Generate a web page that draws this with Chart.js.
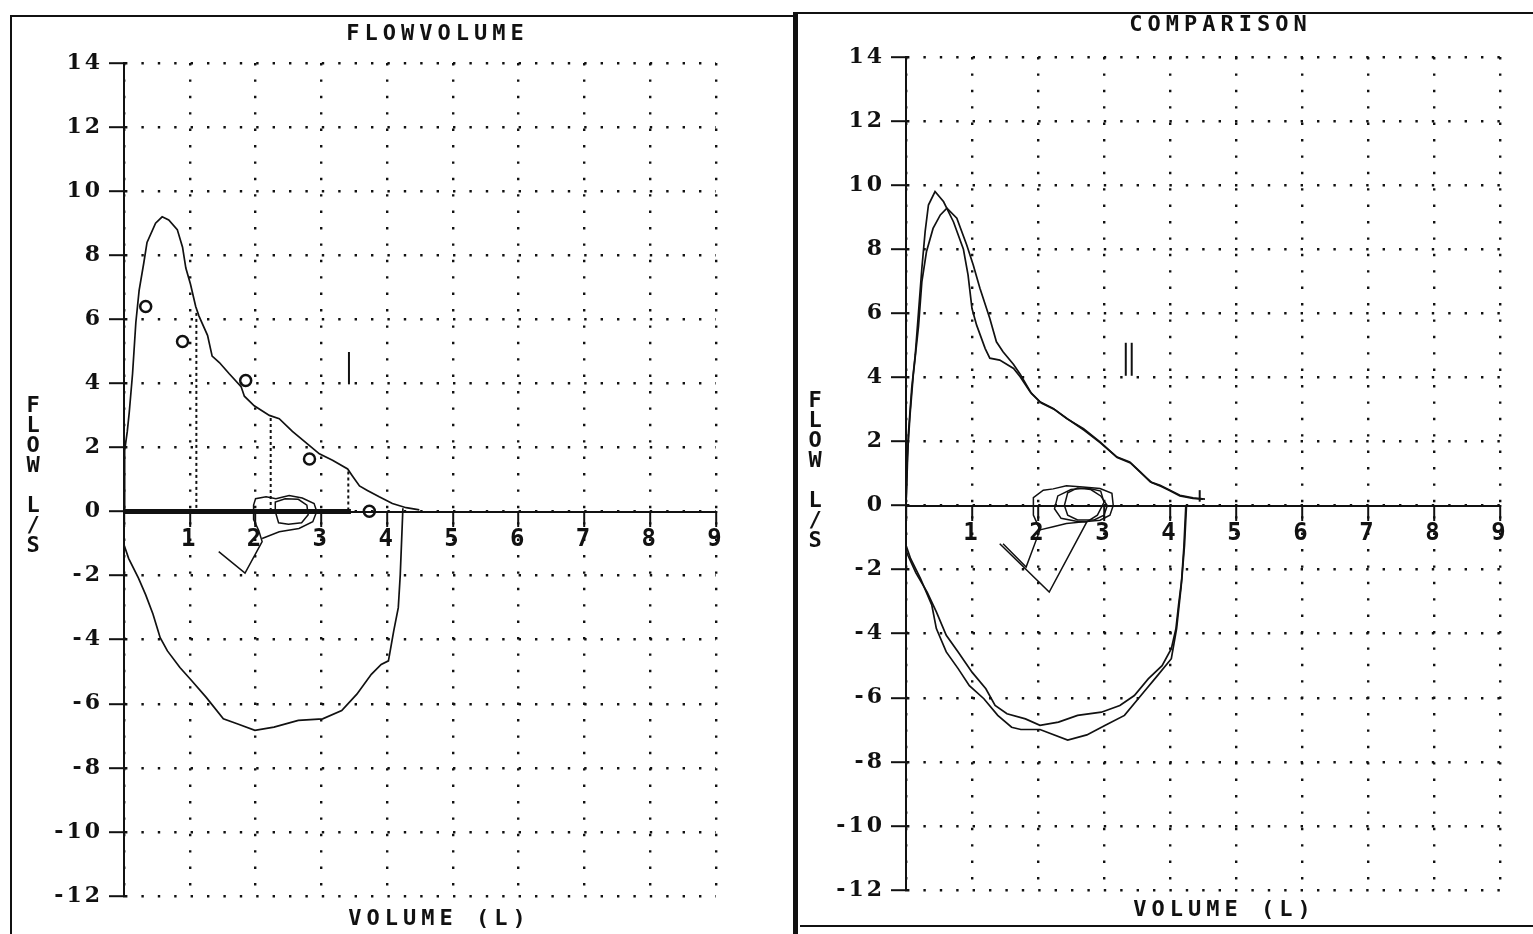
<!DOCTYPE html>
<html><head><meta charset="utf-8">
<script src="https://cdn.jsdelivr.net/npm/chart.js@4.4.1/dist/chart.umd.min.js"></script>
<style>
html,body{margin:0;padding:0;background:#fff;width:1533px;height:934px;overflow:hidden;position:relative;font-family:'DejaVu Sans Mono',monospace;}
.abs{position:absolute;}
.ttl{font-weight:bold;font-size:22px;line-height:22px;letter-spacing:5px;color:#111;white-space:nowrap;transform:translate(-50%,-50%);padding-left:5px;}
.ylab{font-weight:bold;font-size:22px;line-height:20px;color:#111;text-align:center;width:24px;transform:translateX(-50%);}
.ln{background:#111;}
canvas{position:absolute;}
</style></head><body>
<canvas id="c1" width="768" height="914" style="left:12px;top:20px;width:768px;height:914px"></canvas>
<canvas id="c2" width="733" height="920" style="left:800px;top:14px;width:733px;height:920px"></canvas>

<div class="abs ln" style="left:10px;top:15px;width:784px;height:2px"></div>
<div class="abs ln" style="left:10px;top:15px;width:2px;height:919px"></div>
<div class="abs ln" style="left:793px;top:12px;width:5px;height:922px"></div>
<div class="abs ln" style="left:796px;top:12px;width:737px;height:2px"></div>
<div class="abs ln" style="left:800px;top:925px;width:733px;height:2px"></div>

<div class="abs ttl" style="left:435px;top:33px">FLOWVOLUME</div>
<div class="abs ttl" style="left:1218px;top:24px">COMPARISON</div>
<div class="abs ttl" style="left:437px;top:918px">VOLUME (L)</div>
<div class="abs ttl" style="left:1222px;top:909px">VOLUME (L)</div>
<div class="abs ylab" style="left:33px;top:395px">F<br>L<br>O<br>W<br>&nbsp;<br>L<br>/<br>S</div>
<div class="abs ylab" style="left:815px;top:390px">F<br>L<br>O<br>W<br>&nbsp;<br>L<br>/<br>S</div>

<script>
// ---------- axis definitions ----------
const volTicks = [0,1,2,3,4,5,6,7,8,9];
const flowTicks = [-12,-10,-8,-6,-4,-2,0,2,4,6,8,10,12,14];

// ---------- left panel: FLOWVOLUME ----------
const fvExpV = [0,0.01,0.05,0.08,0.13,0.18,0.23,0.30,0.35,0.48,0.58,0.68,0.81,0.89,0.94,1.01,1.09,1.14,1.27,1.34,1.45,1.6,1.78,1.83,1.98,2.21,2.36,2.56,2.82,2.97,3.17,3.4,3.47,3.58,3.7,3.88,4.08,4.29,4.49];
const fvExpF = [0,1.9,2.5,3.1,4.3,5.9,6.9,7.75,8.4,9.0,9.2,9.1,8.8,8.25,7.6,7.1,6.4,6.1,5.5,4.85,4.65,4.3,3.9,3.6,3.3,3.0,2.9,2.5,2.06,1.8,1.6,1.33,1.12,0.8,0.66,0.46,0.25,0.12,0.05];
const fvInsV = [0,0,0.07,0.22,0.33,0.44,0.55,0.66,0.85,1.03,1.25,1.51,1.73,1.99,2.28,2.65,3.02,3.31,3.54,3.76,3.91,4.02,4.1,4.17,4.2,4.24];
const fvInsF = [0,-1.04,-1.46,-2.08,-2.6,-3.2,-3.94,-4.35,-4.87,-5.28,-5.8,-6.47,-6.63,-6.83,-6.73,-6.52,-6.47,-6.21,-5.7,-5.08,-4.77,-4.66,-3.73,-3.0,-1.97,0.1];
const fvTidalV = [1.44,1.84,2.1,2.05,1.97,1.97,2.0,2.16,2.31,2.51,2.71,2.89,2.93,2.87,2.66,2.36,2.1];
const fvTidalF = [-1.25,-1.92,-0.94,-0.6,-0.25,0.2,0.4,0.46,0.4,0.5,0.42,0.25,0.0,-0.32,-0.53,-0.63,-0.84];
const fvTidal2V = [2.3,2.3,2.45,2.65,2.78,2.8,2.7,2.5,2.35,2.3];
const fvTidal2F = [0.0,0.3,0.4,0.38,0.2,-0.1,-0.35,-0.4,-0.35,0.0];
const fvMarkV = [0.33,0.89,1.85,2.82,3.73];
const fvMarkF = [6.4,5.31,4.09,1.64,0.01];
const fvDropV = [1.1,2.23,3.41];
const fvDropF = [6.2,2.92,1.25];
const fvBarV = [0,3.45];
const fvBarF = [0,0];
const fvTagV = [3.42,3.42];
const fvTagF = [3.97,4.98];

// ---------- right panel: COMPARISON ----------
const cmpExpAV = [0,0.02,0.035,0.086,0.14,0.19,0.24,0.29,0.34,0.44,0.57,0.72,0.87,0.94,1.0,1.07,1.2,1.27,1.42,1.63,1.73,1.88,2.03,2.23,2.43,2.69,2.94,3.19,3.39,3.55,3.7,3.85,4.0,4.15,4.35,4.53];
const cmpExpAF = [0,1.2,2.2,3.65,4.7,6.05,7.4,8.55,9.38,9.8,9.48,8.85,8.0,7.2,6.15,5.63,4.9,4.6,4.54,4.28,4.02,3.55,3.24,3.03,2.72,2.4,1.99,1.52,1.36,1.05,0.74,0.63,0.48,0.32,0.24,0.2];
const cmpExpBV = [0,0.02,0.06,0.11,0.19,0.24,0.31,0.41,0.52,0.62,0.77,0.92,1.02,1.12,1.27,1.37,1.47,1.63,1.73,1.9,2.05,2.25,2.45,2.7,2.95,3.2,3.4,3.56,3.72,3.86,4.0,4.15,4.35,4.5];
const cmpExpBF = [0,1.5,2.8,4.07,5.6,6.98,7.92,8.65,9.07,9.28,8.97,8.13,7.5,6.78,5.84,5.11,4.8,4.4,4.1,3.5,3.2,3.0,2.7,2.35,1.95,1.5,1.33,1.02,0.72,0.6,0.46,0.3,0.22,0.2];
const cmpInsAV = [0,0,0.07,0.22,0.39,0.46,0.61,0.79,0.96,1.18,1.39,1.6,1.74,2.03,2.45,2.74,3.02,3.31,3.6,3.81,4.02,4.1,4.17,4.21,4.24];
const cmpInsAF = [0,-1.24,-1.66,-2.28,-3.1,-3.84,-4.57,-5.09,-5.62,-6.03,-6.55,-6.92,-6.99,-6.99,-7.32,-7.16,-6.86,-6.55,-5.83,-5.31,-4.78,-3.84,-2.5,-1.3,0];
const cmpInsBV = [0,0.03,0.15,0.32,0.46,0.61,0.79,1.0,1.21,1.35,1.53,1.81,2.03,2.31,2.6,2.96,3.24,3.46,3.67,3.88,4.02,4.09,4.13,4.18,4.22,4.25];
const cmpInsBF = [-1.4,-1.56,-2.1,-2.7,-3.32,-4.05,-4.57,-5.2,-5.72,-6.24,-6.5,-6.66,-6.86,-6.76,-6.55,-6.45,-6.24,-5.93,-5.41,-5.0,-4.47,-3.84,-3.1,-2.28,-1.24,0];
const cmpTidalAV = [1.47,1.82,2.03,1.93,1.93,2.08,2.23,2.43,2.68,2.94,3.12,3.14,3.09,2.94,2.69,2.43,2.23,2.03];
const cmpTidalAF = [-1.19,-1.92,-0.76,-0.3,0.25,0.48,0.52,0.62,0.58,0.53,0.38,0.0,-0.3,-0.46,-0.51,-0.56,-0.66,-0.76];
const cmpTidalBV = [1.42,2.17,2.74,2.9,3.0,2.95,2.75,2.5,2.3,2.25,2.35,2.6,2.74];
const cmpTidalBF = [-1.19,-2.7,-0.51,-0.3,0.1,0.45,0.55,0.5,0.3,-0.1,-0.4,-0.5,-0.51];
const cmpTidalCV = [2.4,2.45,2.6,2.8,2.95,3.05,3.0,2.85,2.6,2.45,2.4];
const cmpTidalCF = [0.0,0.4,0.55,0.5,0.3,0.0,-0.3,-0.45,-0.45,-0.3,0.0];
const cmpTagAV = [3.33,3.33];
const cmpTagBV = [3.42,3.42];
const cmpTagF = [4.05,5.08];
const cmpEndV = [4.45,4.45];
const cmpEndF = [0.12,0.48];

// ---------- helpers ----------
const INK = '#111';
function pts(xs, ys){ return xs.map((x,i)=>({x:x, y:ys[i]})); }
function curve(xs, ys, extra){
  return Object.assign({data:pts(xs,ys), showLine:true, borderColor:INK, borderWidth:1.7,
    pointRadius:0, fill:false, tension:0}, extra||{});
}
function scalesFor(yWidth){
  return {
    x:{type:'linear', min:0, max:9, position:{y:0}, z:1,
      afterBuildTicks: s => { s.ticks = volTicks.map(v=>({value:v})); },
      ticks:{color:INK, padding:0, maxRotation:0, autoSkip:false,
        font:{family:'DejaVu Sans Mono', weight:'bold', size:24},
        callback: v => v === 0 ? '' : String(v)},
      grid:{color:INK, lineWidth:2.4, tickLength:14, tickColor:INK, tickWidth:2},
      border:{display:true, color:INK, width:2, dash:[2.4,14]}
    },
    y:{type:'linear', min:-12, max:14,
      afterBuildTicks: s => { s.ticks = flowTicks.map(v=>({value:v})); },
      afterFit: s => { s.width = yWidth; },
      ticks:{color:INK, padding:6, autoSkip:false,
        font:{family:'DejaVu Serif', weight:'bold', size:22}},
      grid:{color:INK, lineWidth:2.4, tickLength:15, tickColor:INK, tickWidth:2},
      border:{display:true, color:INK, width:2, dash:[2.4,14]}
    }
  };
}
// wider spacing for the flow-axis labels only (y scale draws before datasets; x scale has z:1)
const spacing = {
  id:'spacing',
  beforeDraw(chart){ chart.ctx.letterSpacing = '3px'; },
  beforeDatasetsDraw(chart){ chart.ctx.letterSpacing = '0px'; }
};
const basePlugins = {legend:{display:false}, tooltip:{enabled:false}, title:{display:false}};

// ---------- left chart ----------
const leftSets = [
  curve(fvBarV, fvBarF, {borderWidth:5}),
  curve(fvExpV, fvExpF),
  curve(fvInsV, fvInsF),
  curve(fvTidalV, fvTidalF, {borderWidth:1.5}),
  curve(fvTidal2V, fvTidal2F, {borderWidth:1.5}),
  curve(fvTagV, fvTagF, {borderWidth:2}),
];
fvDropV.forEach((v,i)=>{
  leftSets.push(curve([v,v],[fvDropF[i],0],{borderWidth:2, borderDash:[3,3]}));
});
leftSets.push({data:pts(fvMarkV,fvMarkF), showLine:false, pointRadius:5.5, pointStyle:'circle',
  pointBorderWidth:2.5, pointBorderColor:INK, pointBackgroundColor:'rgba(255,255,255,0)'});

new Chart(document.getElementById('c1'), {
  type:'scatter',
  data:{datasets:leftSets},
  options:{responsive:false, animation:false, devicePixelRatio:1,
    layout:{padding:{left:0, right:64, top:43, bottom:38}},
    scales:scalesFor(112), plugins:basePlugins},
  plugins:[spacing]
});

// ---------- right chart ----------
const rightSets = [
  curve(cmpExpAV, cmpExpAF),
  curve(cmpExpBV, cmpExpBF),
  curve(cmpInsAV, cmpInsAF),
  curve(cmpInsBV, cmpInsBF),
  curve(cmpTidalAV, cmpTidalAF, {borderWidth:1.5}),
  curve(cmpTidalBV, cmpTidalBF, {borderWidth:1.5}),
  curve(cmpTidalCV, cmpTidalCF, {borderWidth:1.5}),
  curve(cmpTagAV, cmpTagF, {borderWidth:2}),
  curve(cmpTagBV, cmpTagF, {borderWidth:2}),
  curve(cmpEndV, cmpEndF, {borderWidth:2}),
];
new Chart(document.getElementById('c2'), {
  type:'scatter',
  data:{datasets:rightSets},
  options:{responsive:false, animation:false, devicePixelRatio:1,
    layout:{padding:{left:0, right:33, top:43, bottom:44}},
    scales:scalesFor(106), plugins:basePlugins},
  plugins:[spacing]
});
</script>
</body></html>
